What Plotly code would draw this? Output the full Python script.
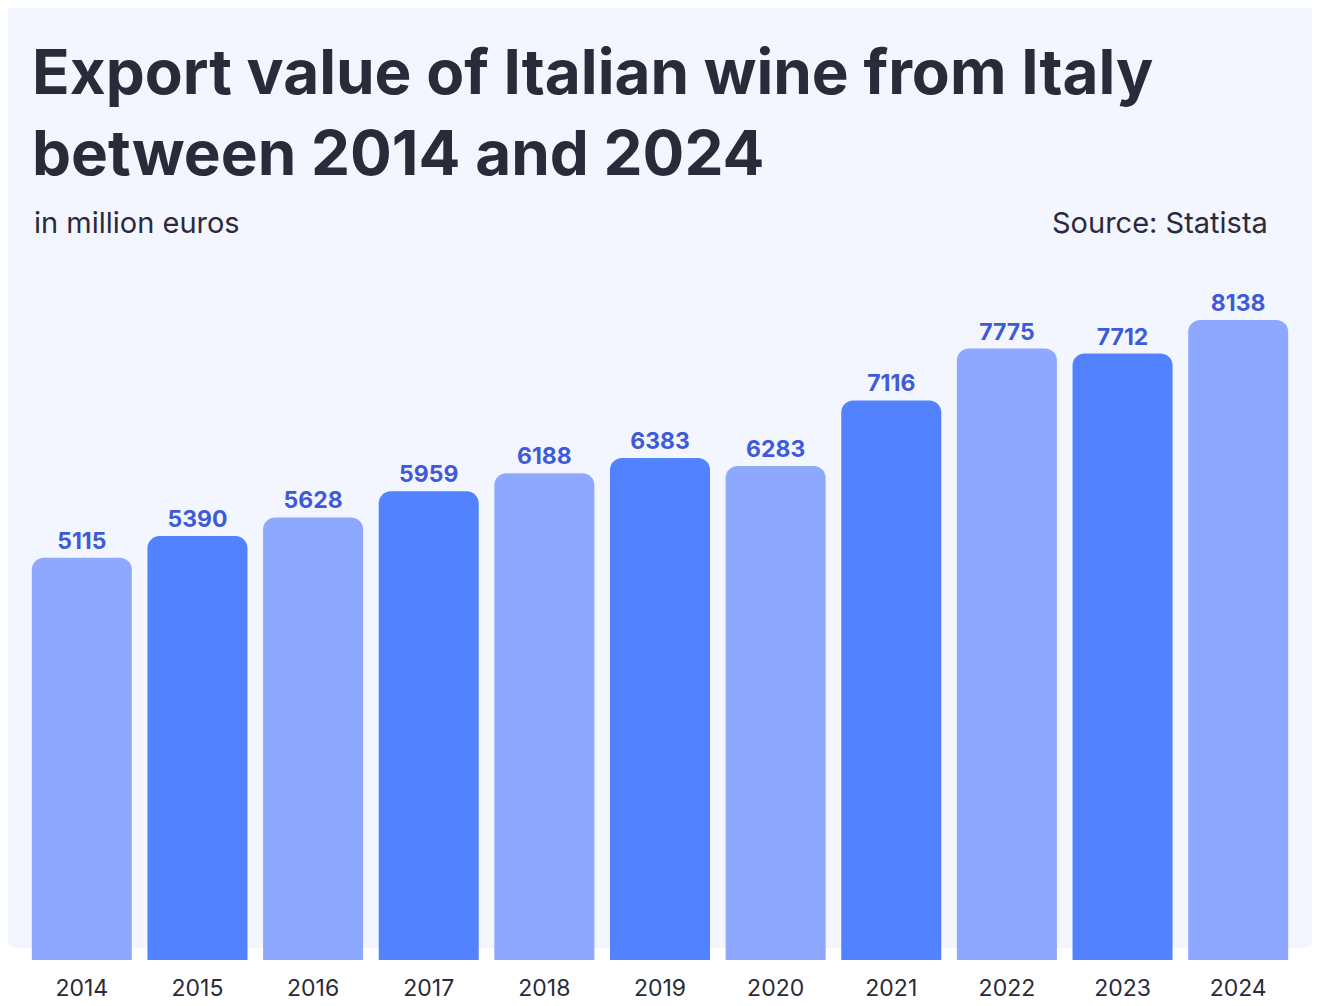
import plotly.graph_objects as go

years = ['2014', '2015', '2016', '2017', '2018', '2019', '2020', '2021', '2022', '2023', '2024']
values = [5115, 5390, 5628, 5959, 6188, 6383, 6283, 7116, 7775, 7712, 8138]
colors = ['#8fa8ff' if i % 2 == 0 else '#5282ff' for i in range(len(years))]

W, H = 1320, 1006
OFF = 8  # page body margin
L, R, T, B = 24 - OFF, 24 + OFF, 260 - OFF, 46 + OFF
pw, ph = W - L - R, H - T - B


def px_x(x):
    return (x - OFF - L) / pw


def px_y(y):
    return (H - B - (y - OFF)) / ph


fig = go.Figure(go.Bar(
    x=years, y=values,
    marker=dict(color=colors, cornerradius=12, line_width=0),
    text=[str(v) for v in values],
    textposition='outside',
    textfont=dict(family='Inter', size=23, color='#3d5bd9', weight='bold'),
    cliponaxis=False,
))

# light rounded background panel
x0, x1, y0, y1, r = 0, 1320, 0, 948, 22
path = (f"M {px_x(x0 + r)} {px_y(y0)} L {px_x(x1 - r)} {px_y(y0)} "
        f"Q {px_x(x1)} {px_y(y0)} {px_x(x1)} {px_y(y0 + r)} "
        f"L {px_x(x1)} {px_y(y1 - r)} Q {px_x(x1)} {px_y(y1)} {px_x(x1 - r)} {px_y(y1)} "
        f"L {px_x(x0 + r)} {px_y(y1)} Q {px_x(x0)} {px_y(y1)} {px_x(x0)} {px_y(y1 - r)} "
        f"L {px_x(x0)} {px_y(y0 + r)} Q {px_x(x0)} {px_y(y0)} {px_x(x0 + r)} {px_y(y0)} Z")
fig.add_shape(type='path', path=path, xref='paper', yref='paper',
              fillcolor='#f4f6ff', line_width=0, layer='below')

fig.add_annotation(text='Export value of Italian wine from Italy<br>between 2014 and 2024',
                   x=px_x(30), y=px_y(32), xref='paper', yref='paper',
                   xanchor='left', yanchor='top', align='left', showarrow=False,
                   font=dict(family='Inter', size=62, color='#2a2a3a', weight='bold'))
fig.add_annotation(text='in million euros', x=px_x(32), y=px_y(222),
                   xref='paper', yref='paper', xanchor='left', yanchor='middle',
                   showarrow=False, font=dict(family='Inter', size=29, color='#2a2a3a'))
fig.add_annotation(text='Source: Statista', x=px_x(1270), y=px_y(222),
                   xref='paper', yref='paper', xanchor='right', yanchor='middle',
                   showarrow=False, font=dict(family='Inter', size=29, color='#2a2a3a'))

fig.update_layout(
    width=W, height=H,
    margin=dict(l=L, r=R, t=T, b=B),
    paper_bgcolor='white', plot_bgcolor='rgba(0,0,0,0)',
    bargap=0.135, showlegend=False,
    xaxis=dict(showgrid=False, showline=False, ticks='', ticklabelstandoff=12,
               tickfont=dict(family='Inter', size=23, color='#2a2a3a')),
    yaxis=dict(range=[0, 8901], visible=False),
)

fig.write_html('out.html')
